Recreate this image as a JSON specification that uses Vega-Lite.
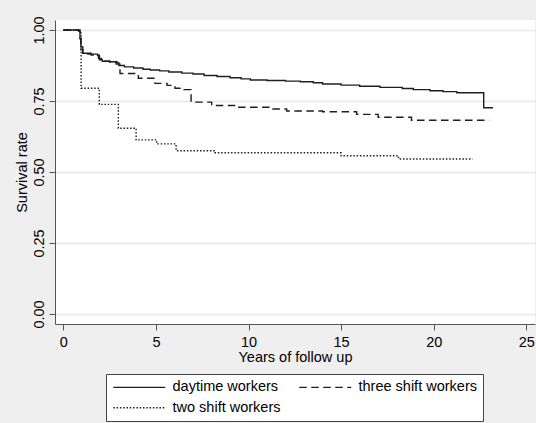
{
  "$schema": "https://vega.github.io/schema/vega-lite/v6.json",
  "width": 480,
  "height": 304,
  "autosize": {"type": "none"},
  "padding": {"left": 55, "top": 20, "right": 1, "bottom": 99},
  "background": "#efefef",
  "config": {
    "font": "Liberation Sans, Arial, sans-serif",
    "view": {"fill": "white", "stroke": null},
    "axis": {
      "labelFont": "Liberation Sans, Arial, sans-serif",
      "titleFont": "Liberation Sans, Arial, sans-serif",
      "labelFontSize": 14.5,
      "titleFontSize": 14.5,
      "titleFontWeight": "normal",
      "labelColor": "#000",
      "titleColor": "#000",
      "domainColor": "#555",
      "tickColor": "#555",
      "tickSize": 6,
      "domainWidth": 1,
      "tickWidth": 1
    },
    "legend": {
      "labelFont": "Liberation Sans, Arial, sans-serif",
      "labelFontSize": 14.5,
      "labelColor": "#000"
    }
  },
  "data": {
    "values": [
      {"g": "daytime workers", "t": 0, "s": 1},
      {"g": "daytime workers", "t": 0.85, "s": 0.995},
      {"g": "daytime workers", "t": 0.9, "s": 0.97},
      {"g": "daytime workers", "t": 0.95, "s": 0.94},
      {"g": "daytime workers", "t": 1.05, "s": 0.918},
      {"g": "daytime workers", "t": 1.5, "s": 0.915},
      {"g": "daytime workers", "t": 1.85, "s": 0.91},
      {"g": "daytime workers", "t": 1.95, "s": 0.895},
      {"g": "daytime workers", "t": 2.1, "s": 0.89},
      {"g": "daytime workers", "t": 2.5, "s": 0.888},
      {"g": "daytime workers", "t": 2.9, "s": 0.884},
      {"g": "daytime workers", "t": 3.0, "s": 0.875},
      {"g": "daytime workers", "t": 3.3, "s": 0.87},
      {"g": "daytime workers", "t": 3.8, "s": 0.866},
      {"g": "daytime workers", "t": 4.3, "s": 0.862},
      {"g": "daytime workers", "t": 4.7, "s": 0.859},
      {"g": "daytime workers", "t": 5.2, "s": 0.856},
      {"g": "daytime workers", "t": 5.7, "s": 0.852},
      {"g": "daytime workers", "t": 6.4, "s": 0.848},
      {"g": "daytime workers", "t": 7.0, "s": 0.845},
      {"g": "daytime workers", "t": 7.6, "s": 0.84},
      {"g": "daytime workers", "t": 8.3, "s": 0.836},
      {"g": "daytime workers", "t": 9.0, "s": 0.832},
      {"g": "daytime workers", "t": 9.6, "s": 0.828},
      {"g": "daytime workers", "t": 10.1, "s": 0.824},
      {"g": "daytime workers", "t": 11.0, "s": 0.822},
      {"g": "daytime workers", "t": 12.0, "s": 0.82},
      {"g": "daytime workers", "t": 12.8, "s": 0.818},
      {"g": "daytime workers", "t": 13.5, "s": 0.814},
      {"g": "daytime workers", "t": 14.0, "s": 0.81},
      {"g": "daytime workers", "t": 15.0, "s": 0.806},
      {"g": "daytime workers", "t": 16.0, "s": 0.802},
      {"g": "daytime workers", "t": 17.1, "s": 0.798},
      {"g": "daytime workers", "t": 18.3, "s": 0.794},
      {"g": "daytime workers", "t": 18.9, "s": 0.79},
      {"g": "daytime workers", "t": 19.8, "s": 0.786},
      {"g": "daytime workers", "t": 20.5, "s": 0.783},
      {"g": "daytime workers", "t": 21.25, "s": 0.779},
      {"g": "daytime workers", "t": 22.7, "s": 0.726},
      {"g": "daytime workers", "t": 23.2, "s": 0.726},
      {"g": "three shift workers", "t": 0, "s": 1},
      {"g": "three shift workers", "t": 0.85, "s": 0.995},
      {"g": "three shift workers", "t": 0.9, "s": 0.97},
      {"g": "three shift workers", "t": 0.95, "s": 0.93},
      {"g": "three shift workers", "t": 1.05, "s": 0.915},
      {"g": "three shift workers", "t": 1.5, "s": 0.912},
      {"g": "three shift workers", "t": 1.9, "s": 0.9},
      {"g": "three shift workers", "t": 2.05, "s": 0.89},
      {"g": "three shift workers", "t": 2.5, "s": 0.886},
      {"g": "three shift workers", "t": 2.85, "s": 0.88},
      {"g": "three shift workers", "t": 3.06, "s": 0.847},
      {"g": "three shift workers", "t": 4.05, "s": 0.83},
      {"g": "three shift workers", "t": 4.95, "s": 0.812},
      {"g": "three shift workers", "t": 5.6, "s": 0.805},
      {"g": "three shift workers", "t": 6.03, "s": 0.795},
      {"g": "three shift workers", "t": 6.5, "s": 0.79},
      {"g": "three shift workers", "t": 6.9, "s": 0.746},
      {"g": "three shift workers", "t": 8.01, "s": 0.734},
      {"g": "three shift workers", "t": 9.36, "s": 0.728},
      {"g": "three shift workers", "t": 11.2, "s": 0.722},
      {"g": "three shift workers", "t": 12.06, "s": 0.715},
      {"g": "three shift workers", "t": 14.0, "s": 0.712},
      {"g": "three shift workers", "t": 15.84, "s": 0.703},
      {"g": "three shift workers", "t": 17.0, "s": 0.693},
      {"g": "three shift workers", "t": 18.8, "s": 0.682},
      {"g": "three shift workers", "t": 23.0, "s": 0.682},
      {"g": "two shift workers", "t": 0, "s": 1},
      {"g": "two shift workers", "t": 0.9, "s": 0.99},
      {"g": "two shift workers", "t": 0.96, "s": 0.795},
      {"g": "two shift workers", "t": 1.94, "s": 0.738},
      {"g": "two shift workers", "t": 2.97, "s": 0.654},
      {"g": "two shift workers", "t": 3.93, "s": 0.613},
      {"g": "two shift workers", "t": 5.04, "s": 0.599},
      {"g": "two shift workers", "t": 6.09, "s": 0.575},
      {"g": "two shift workers", "t": 8.19, "s": 0.568},
      {"g": "two shift workers", "t": 15.0, "s": 0.557},
      {"g": "two shift workers", "t": 18.1, "s": 0.546},
      {"g": "two shift workers", "t": 22.1, "s": 0.546}
    ]
  },
  "mark": {"type": "line", "interpolate": "step-after", "strokeWidth": 1.4, "color": "#1e1e1e"},
  "encoding": {
    "x": {
      "field": "t",
      "type": "quantitative",
      "scale": {"domain": [-0.45, 25.47], "nice": false, "zero": false},
      "axis": {
        "values": [0, 5, 10, 15, 20, 25],
        "title": "Years of follow up",
        "grid": false,
        "labelPadding": 5,
        "titlePadding": 2,
        "labelFlush": false
      }
    },
    "y": {
      "field": "s",
      "type": "quantitative",
      "scale": {"domain": [-0.0352, 1.0352], "nice": false, "zero": false},
      "axis": {
        "values": [0, 0.25, 0.5, 0.75, 1],
        "format": ".2f",
        "title": "Survival rate",
        "grid": true,
        "gridColor": "#e8e8e8",
        "gridWidth": 1.5,
        "labelAngle": -90,
        "labelAlign": "center",
        "labelBaseline": "bottom",
        "labelPadding": 3,
        "titlePadding": 2,
        "labelFlush": false
      }
    },
    "strokeDash": {
      "field": "g",
      "type": "nominal",
      "scale": {
        "domain": ["daytime workers", "three shift workers", "two shift workers"],
        "range": [[1, 0], [7.5, 4.5], [1.5, 1.8]]
      },
      "legend": {
        "title": null,
        "orient": "none",
        "legendX": 51,
        "legendY": 354,
        "columns": 2,
        "direction": "horizontal",
        "symbolType": "M-5,0L5,0",
        "symbolSize": 108,
        "symbolOffset": 20,
        "symbolStrokeColor": "#1e1e1e",
        "symbolFillColor": "transparent",
        "symbolStrokeWidth": 1.4,
        "labelOffset": 26,
        "columnPadding": 15,
        "rowPadding": 5.5,
        "padding": 6,
        "strokeColor": "#444",
        "fillColor": "white",
        "labelLimit": 300
      }
    }
  }
}
